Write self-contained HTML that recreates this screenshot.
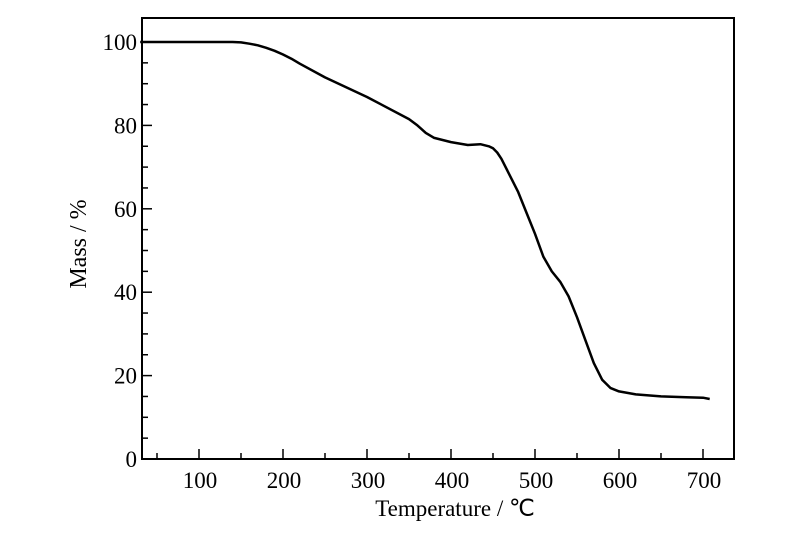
<!DOCTYPE html>
<html><head><meta charset="utf-8"><style>
body{margin:0;background:#fff;}
svg{display:block;font-family:"Liberation Serif",serif;}
</style></head><body>
<svg id="chart" width="800" height="550"></svg>
<script>
const temps=[30,140,150,160,170,180,190,200,210,220,250,300,350,360,370,380,390,400,420,435,445,450,455,460,470,480,490,500,510,520,530,540,550,560,570,580,590,600,620,650,680,700,708];
const mass=[100,100,99.9,99.6,99.2,98.6,97.9,97,96,94.8,91.5,86.8,81.5,80,78.2,77,76.5,76,75.3,75.5,75,74.5,73.5,72,68,64,59,54,48.5,45,42.5,39,34,28.5,23,19,17,16.2,15.5,15,14.8,14.7,14.4];
const xTicks=[100,200,300,400,500,600,700];
const yTicks=[0,20,40,60,80,100];
const NS="http://www.w3.org/2000/svg";
const svg=document.getElementById('chart');
const L=142,R=734,T=18,B=459;
const sx=v=>199+(v-100)*(703-199)/600;
const sy=v=>459-v*(459-42)/100;
function mk(tag,attrs){const e=document.createElementNS(NS,tag);for(const k in attrs)e.setAttribute(k,attrs[k]);svg.appendChild(e);return e;}
const frame=mk('rect',{x:L,y:T,width:R-L,height:B-T,fill:'none',stroke:'#000','stroke-width':2});


for(let v=50;v<=700;v+=50){
  const major=v%100===0;
  const t=mk('line',{x1:sx(v),x2:sx(v),y1:B,y2:B-(major?10:6),stroke:'#000','stroke-width':1.5});
  
  
}
for(let v=0;v<=100;v+=5){
  const major=v%20===0;
  const t=mk('line',{x1:L,x2:L+(major?10:6),y1:sy(v),y2:sy(v),stroke:'#000','stroke-width':1.5});
  
  
}
xTicks.forEach(v=>{
  const t=mk('text',{x:sx(v)+1,y:B+29,'text-anchor':'middle','font-size':23});
  t.textContent=v;
  
  
});
yTicks.forEach(v=>{
  const t=mk('text',{x:L-5,y:sy(v)+8,'text-anchor':'end','font-size':23});
  t.textContent=v;
  
  
});
const xt=mk('text',{x:455,y:516,'text-anchor':'middle','font-size':23});
xt.textContent='Temperature / \u2103';


const yt=mk('text',{x:0,y:0,'text-anchor':'middle','font-size':24,transform:'translate(86,244) rotate(-90)'});
yt.textContent='Mass / %';


const d=temps.map((t,i)=>(i?'L':'M')+sx(t).toFixed(1)+','+sy(mass[i]).toFixed(1)).join(' ');
const line=mk('path',{d:d,fill:'none',stroke:'#000','stroke-width':2.5,'stroke-linejoin':'round'});


</script>
</body></html>
